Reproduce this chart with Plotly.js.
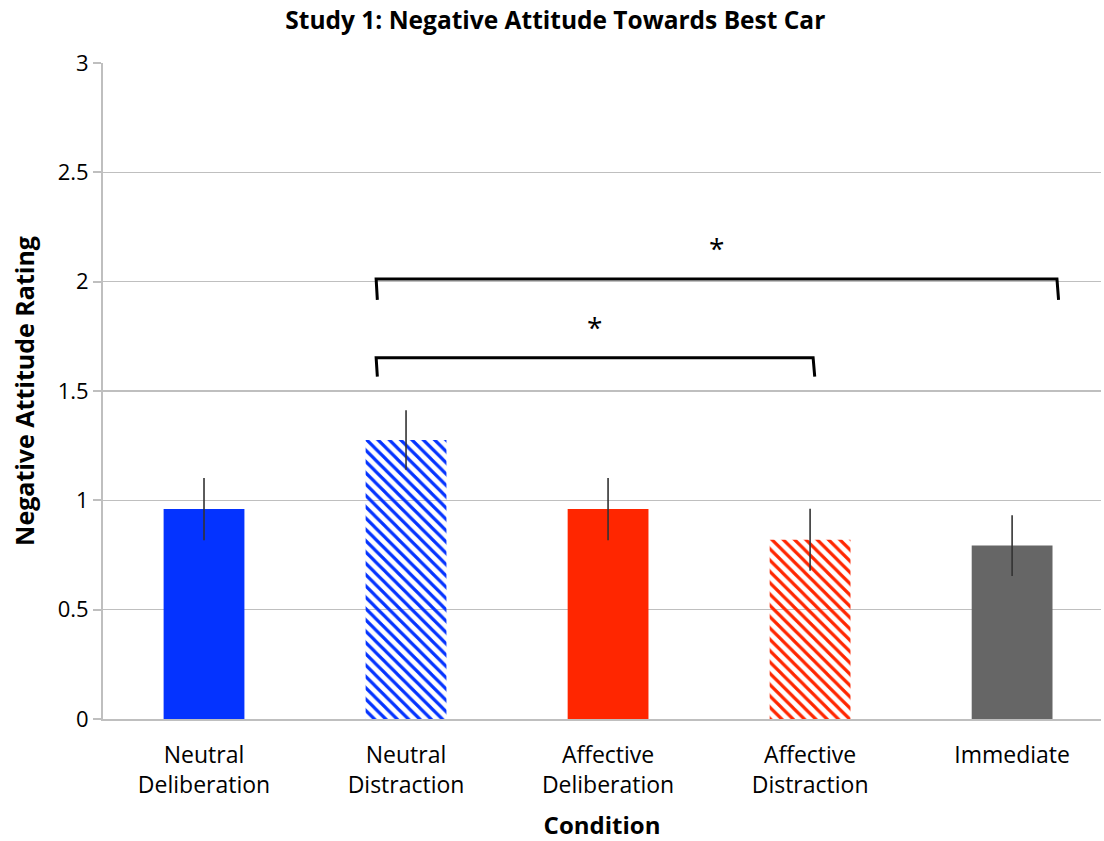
<!DOCTYPE html>
<html>
<head>
<meta charset="utf-8">
<script src="https://cdn.plot.ly/plotly-3.0.1.min.js"></script>
<style>html,body{margin:0;padding:0;background:#fff;}#chart{width:1104px;height:841px;}</style>
</head>
<body>
<div id="chart"></div>
<script>
const categories = ["Neutral<br>Deliberation", "Neutral<br>Distraction", "Affective<br>Deliberation", "Affective<br>Distraction", "Immediate"];
const values = [0.96, 1.276, 0.96, 0.82, 0.793];
const errors = [0.142, 0.136, 0.142, 0.142, 0.139];
const barColors = ["#0433FF", "#0433FF", "#FF2600", "#FF2600", "#666666"];
const patternShapes = ["", "\\", "", "\\", ""];

// significance brackets: x start, x end, bar level, hook bottom, star label
const bracketX0 = [0.852, 0.852];
const bracketX1 = [4.222, 3.015];
const bracketY = [2.012, 1.652];
const bracketHook = [1.917, 1.566];
const bracketLabel = ["*", "*"];

const FONT = "'Open Sans', sans-serif";

const trace = {
  type: "bar",
  x: categories,
  y: values,
  width: 0.4,
  marker: {
    color: barColors,
    line: {width: 0},
    pattern: {
      shape: patternShapes,
      bgcolor: "#FFFFFF",
      size: 8,
      solidity: 0.4,
      fillmode: "replace"
    }
  },
  error_y: {type: "data", array: errors, visible: true, color: "#333333", thickness: 1.6, width: 0},
  hoverinfo: "none"
};

const shapes = [];
const annotations = [];
for (let i = 0; i < bracketX0.length; i++) {
  const x0 = bracketX0[i], x1 = bracketX1[i], y = bracketY[i], h = bracketHook[i];
  shapes.push({
    type: "path", xref: "x", yref: "y",
    path: `M ${x0 + 0.006} ${h} L ${x0} ${y} L ${x1} ${y} L ${x1 + 0.008} ${h}`,
    line: {color: "#000000", width: 3}
  });
  annotations.push({
    x: (x0 + x1) / 2, y: y + 0.14, xref: "x", yref: "y",
    text: bracketLabel[i], showarrow: false,
    font: {family: FONT, size: 28, color: "#000"}
  });
}

const layout = {
  width: 1104, height: 841,
  margin: {l: 103, r: 3, t: 63, b: 122},
  paper_bgcolor: "#fff", plot_bgcolor: "#fff",
  showlegend: false,
  title: {text: "<b>Study 1: Negative Attitude Towards Best Car</b>", x: 0.503, xanchor: "center", y: 0.976, yanchor: "middle",
          font: {family: FONT, size: 24.5, color: "#000"}},
  xaxis: {
    type: "category",
    range: [-0.5, 4.44],
    showgrid: false,
    showline: true, linecolor: "#BFBFBF", linewidth: 2,
    ticks: "",
    ticklabelstandoff: 14,
    tickfont: {family: FONT, size: 23, color: "#000"},
    title: {text: "<b>Condition</b>", font: {family: FONT, size: 24, color: "#000"}, standoff: 22},
    fixedrange: true
  },
  yaxis: {
    range: [0, 3],
    dtick: 0.5,
    showgrid: true, gridcolor: "#BFBFBF", gridwidth: 1.5,
    showline: true, linecolor: "#BFBFBF", linewidth: 2,
    ticks: "outside", ticklen: 8, tickcolor: "#BFBFBF", tickwidth: 2,
    tickfont: {family: FONT, size: 22, color: "#000"},
    zeroline: false,
    title: {text: "<b>Negative Attitude Rating</b>", font: {family: FONT, size: 25, color: "#000"}, standoff: 16},
    fixedrange: true
  },
  shapes: shapes,
  annotations: annotations,
  font: {family: FONT}
};

Plotly.newPlot("chart", [trace], layout, {staticPlot: true});
</script>
</body>
</html>
